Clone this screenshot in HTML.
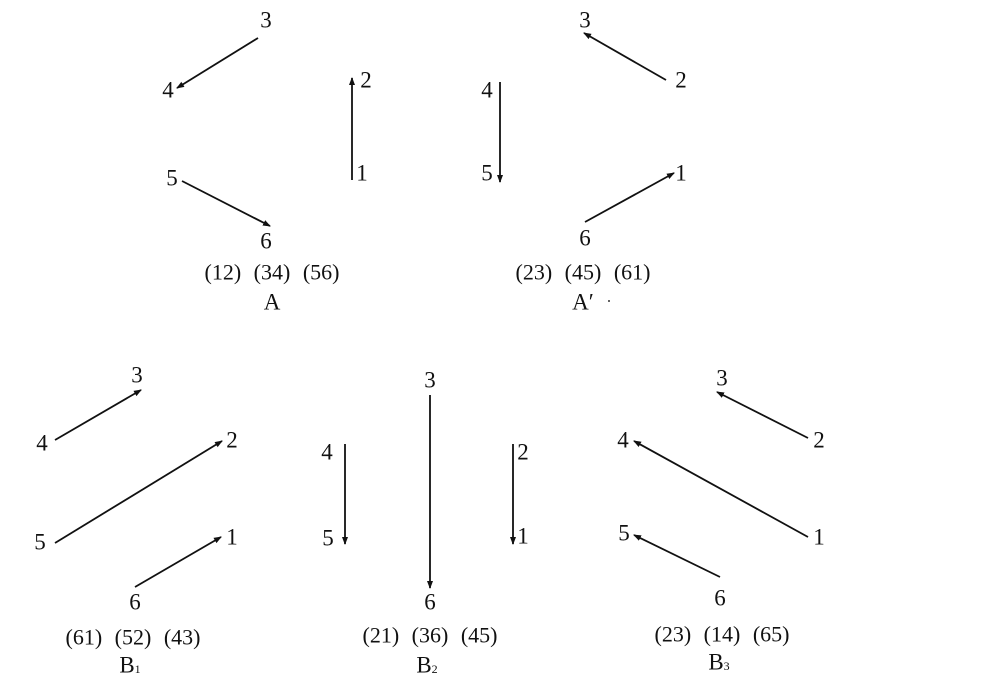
<!DOCTYPE html>
<html><head><meta charset="utf-8"><style>
html,body{margin:0;padding:0;background:#fff;}
svg{display:block}
text{font-family:"Liberation Serif",serif;font-size:23px;fill:#111;text-anchor:middle;dominant-baseline:central}
text.l{font-size:22px;word-spacing:7px}
line{stroke:#111;stroke-width:1.8}
</style></head><body>
<svg width="1000" height="682" viewBox="0 0 1000 682" xmlns="http://www.w3.org/2000/svg">
<defs><marker id="a" markerWidth="8" markerHeight="8" refX="7" refY="4" orient="auto" markerUnits="userSpaceOnUse"><path d="M0,1 L8,4 L0,7 Z" fill="#111"/></marker></defs>
<!-- A -->
<text x="266" y="20">3</text><text x="168" y="90">4</text><text x="366" y="80">2</text>
<text x="362" y="173">1</text><text x="172" y="178">5</text><text x="266" y="241">6</text>
<line x1="258" y1="38" x2="177" y2="88" marker-end="url(#a)"/>
<line x1="352" y1="180" x2="352" y2="78" marker-end="url(#a)"/>
<line x1="182" y1="181" x2="270" y2="226" marker-end="url(#a)"/>
<text class="l" x="272" y="272">(12) (34) (56)</text><text x="272" y="302">A</text>
<!-- A' -->
<text x="585" y="20">3</text><text x="681" y="80">2</text><text x="487" y="90">4</text>
<text x="487" y="173">5</text><text x="681" y="173">1</text><text x="585" y="238">6</text>
<line x1="666" y1="80" x2="584" y2="33" marker-end="url(#a)"/>
<line x1="500" y1="82" x2="500" y2="182" marker-end="url(#a)"/>
<line x1="585" y1="222" x2="674" y2="173" marker-end="url(#a)"/>
<text class="l" x="583" y="272">(23) (45) (61)</text><text x="583" y="302">A′</text>
<circle cx="609" cy="301" r="1" fill="#333"/>
<!-- B1 -->
<text x="137" y="375">3</text><text x="42" y="443">4</text><text x="232" y="440">2</text>
<text x="40" y="542">5</text><text x="232" y="537">1</text><text x="135" y="602">6</text>
<line x1="55" y1="440" x2="141" y2="390" marker-end="url(#a)"/>
<line x1="55" y1="543" x2="222" y2="441" marker-end="url(#a)"/>
<line x1="135" y1="587" x2="221" y2="537" marker-end="url(#a)"/>
<text class="l" x="133" y="637">(61) (52) (43)</text><text x="130" y="665">B<tspan font-size="12" dy="4">1</tspan></text>
<!-- B2 -->
<text x="430" y="380">3</text><text x="327" y="452">4</text><text x="328" y="538">5</text>
<text x="523" y="452">2</text><text x="523" y="536">1</text><text x="430" y="602">6</text>
<line x1="430" y1="395" x2="430" y2="588" marker-end="url(#a)"/>
<line x1="345" y1="444" x2="345" y2="544" marker-end="url(#a)"/>
<line x1="513" y1="444" x2="513" y2="544" marker-end="url(#a)"/>
<text class="l" x="430" y="635">(21) (36) (45)</text><text x="427" y="665">B<tspan font-size="12" dy="4">2</tspan></text>
<!-- B3 -->
<text x="722" y="378">3</text><text x="819" y="440">2</text><text x="623" y="440">4</text>
<text x="819" y="537">1</text><text x="624" y="533">5</text><text x="720" y="598">6</text>
<line x1="808" y1="438" x2="717" y2="392" marker-end="url(#a)"/>
<line x1="808" y1="537" x2="634" y2="441" marker-end="url(#a)"/>
<line x1="720" y1="577" x2="634" y2="535" marker-end="url(#a)"/>
<text class="l" x="722" y="634">(23) (14) (65)</text><text x="719" y="662">B<tspan font-size="12" dy="4">3</tspan></text>
</svg>
</body></html>
